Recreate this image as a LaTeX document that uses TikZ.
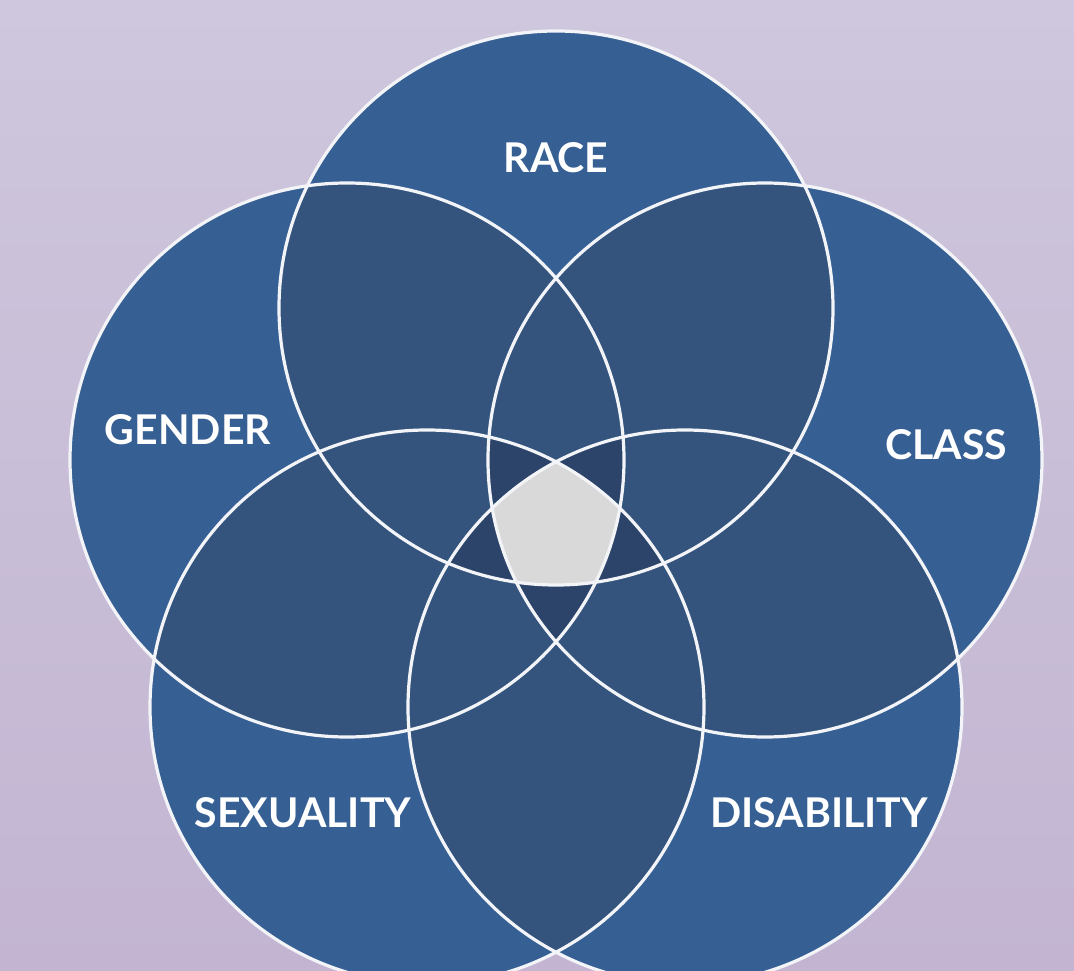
\documentclass[tikz,border=0pt]{standalone}
\usepackage{fontspec}
\setmainfont{Lato}
\definecolor{bgtop}{HTML}{CEC7DD}
\definecolor{bgbot}{HTML}{C3B5D2}
\definecolor{single}{HTML}{365F94}
\definecolor{pair}{HTML}{34547E}
\definecolor{quad}{HTML}{2C446A}
\definecolor{core}{HTML}{D9D9D9}
\definecolor{ringline}{HTML}{F2F4F8}
\begin{document}
\begin{tikzpicture}[x=1pt,y=-1pt,
  ring/.style={draw=ringline,line width=3.2pt},
  tag/.style={text=white,anchor=base,inner sep=0pt,
    font=\bfseries\fontsize{41}{49}\selectfont}]
% backdrop
\shade[top color=bgtop,bottom color=bgbot] (0,0) rectangle (1074,971);
\useasboundingbox (0,0) rectangle (1074,971);
% circle centres on a regular pentagon
\coordinate (race)   at (556,308);
\coordinate (gender) at (347,460);
\coordinate (class)  at (765,460);
\coordinate (sex)    at (427,707);
\coordinate (dis)    at (685,707);
\def\rad{277pt}
% single membership
\foreach \c in {race,gender,class,sex,dis}
  \fill[single] (\c) circle[radius=\rad];
% two or three circles overlapping
\foreach \a/\b in {race/gender,race/class,race/sex,race/dis,gender/class,
                   gender/sex,gender/dis,class/sex,class/dis,sex/dis}{
  \begin{scope}
    \clip (\a) circle[radius=\rad];
    \fill[pair] (\b) circle[radius=\rad];
  \end{scope}}
% four circles overlapping
\foreach \a/\b/\c/\d in {race/gender/class/sex,race/gender/class/dis,
    race/gender/sex/dis,race/class/sex/dis,gender/class/sex/dis}{
  \begin{scope}
    \clip (\a) circle[radius=\rad];
    \clip (\b) circle[radius=\rad];
    \clip (\c) circle[radius=\rad];
    \fill[quad] (\d) circle[radius=\rad];
  \end{scope}}
% all five
\begin{scope}
  \clip (race) circle[radius=\rad];
  \clip (gender) circle[radius=\rad];
  \clip (class) circle[radius=\rad];
  \clip (sex) circle[radius=\rad];
  \fill[core] (dis) circle[radius=\rad];
\end{scope}
% outlines
\foreach \c in {race,gender,class,sex,dis}
  \draw[ring] (\c) circle[radius=\rad];
% labels
\node[tag] (lrace)   at (556,173) {RACE};
\node[tag] (lgender) at (188,444) {GENDER};
\node[tag] (lclass)  at (946,459) {CLASS};
\node[tag] (lsex)    at (303,827) {SEXUALITY};
\node[tag] (ldis)    at (819,827) {DISABILITY};
\end{tikzpicture}
\end{document}
